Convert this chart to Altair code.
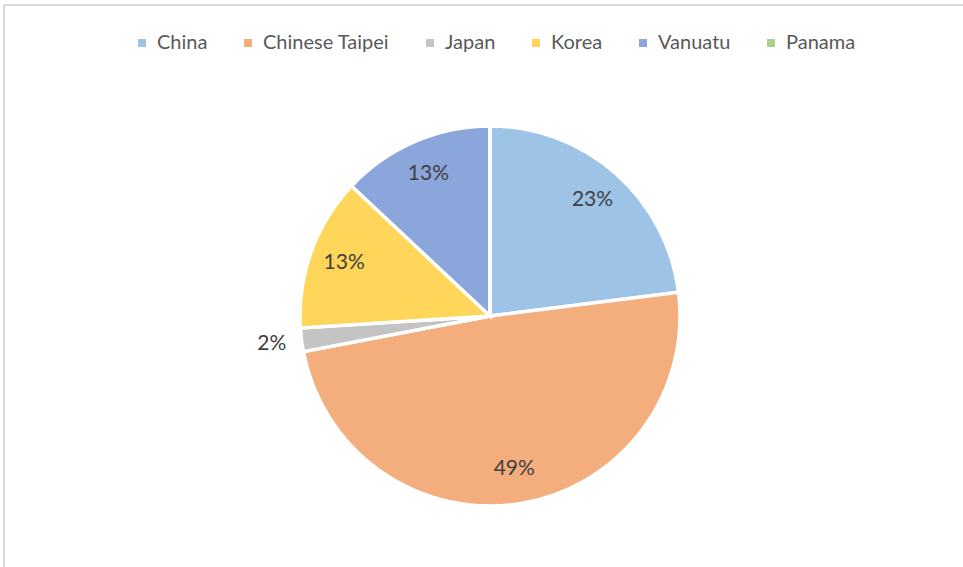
import altair as alt
import pandas as pd

countries = ["China", "Chinese Taipei", "Japan", "Korea", "Vanuatu", "Panama"]
shares = [23, 49, 2, 13, 13, 0]
colors = ["#9DC3E6", "#F4AE7E", "#C4C4C4", "#FFD659", "#8AA6DA", "#A9D18E"]

df = pd.DataFrame({
    "country": countries,
    "share": shares,
    "idx": list(range(len(countries))),
})
df["label"] = [f"{v}%" for v in shares]

W, H = 959, 562
CX, CY, R = 486, 311, 190

base = alt.Chart(df).encode(
    theta=alt.Theta("share:Q", stack=True),
    order=alt.Order("idx:Q"),
)

pie = base.mark_arc(radius=R, stroke="white", strokeWidth=3.5).encode(
    x=alt.value(CX),
    y=alt.value(CY),
    color=alt.Color(
        "country:N",
        scale=alt.Scale(domain=countries, range=colors),
        sort=countries,
        legend=alt.Legend(
            title=None,
            orient="none",
            legendX=128,
            legendY=28,
            direction="horizontal",
            columns=6,
            symbolType="square",
            symbolSize=64,
            symbolStrokeWidth=0,
            labelFont="Lato",
            labelFontSize=20,
            labelColor="#595959",
            columnPadding=30,
            labelOffset=5,
        ),
    ),
)

inner_labels = base.mark_text(
    radius=155, font="Lato", fontSize=21, color="#404040"
).encode(
    x=alt.value(CX),
    y=alt.value(CY),
    text=alt.Text("label:N"),
    opacity=alt.condition("datum.share >= 5", alt.value(1), alt.value(0)),
)

outer_labels = base.mark_text(
    radius=220, font="Lato", fontSize=21, color="#404040"
).encode(
    x=alt.value(CX),
    y=alt.value(CY),
    text=alt.Text("label:N"),
    opacity=alt.condition("datum.share > 0 && datum.share < 5", alt.value(1), alt.value(0)),
)

frame_left = alt.Chart(df).mark_rule(color="#D9D9D9", strokeWidth=1.5).encode(
    x=alt.value(0), y=alt.value(0), y2=alt.value(H)
)
frame_top = alt.Chart(df).mark_rule(color="#D9D9D9", strokeWidth=1.5).encode(
    y=alt.value(0), x=alt.value(0), x2=alt.value(W)
)

chart = (
    alt.layer(frame_left, frame_top, pie, inner_labels, outer_labels)
    .properties(
        width=W,
        height=H,
        autosize=alt.AutoSizeParams(type="none"),
        padding={"left": 4, "top": 5, "right": 0, "bottom": 0},
    )
    .configure_view(stroke=None)
    .configure(background="white")
)

chart.save("out.html", embed_options={"renderer": "svg", "actions": False})
